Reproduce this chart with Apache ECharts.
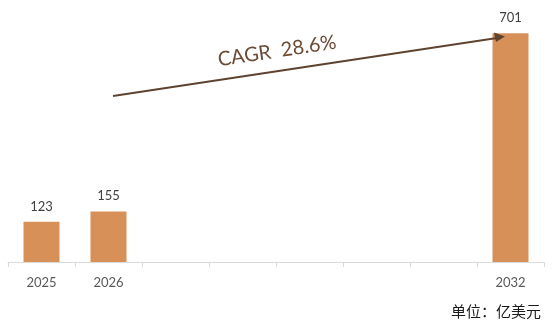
<!DOCTYPE html>
<html><head><meta charset="utf-8">
<script src="https://cdn.jsdelivr.net/npm/echarts@6/dist/echarts.min.js"></script>
<style>html,body{margin:0;padding:0;background:#fff}#c{width:557px;height:325px}</style>
</head><body><div id="c"></div>
<script>
var categories = ['2025','2026','','','','','','2032'];
var values = [123, 155, null, null, null, null, null, 701];
var cagrText = 'CAGR  28.6%';
var unitText = '单位：亿美元';

var chart = echarts.init(document.getElementById('c'));
var font = 'Lato, "Noto Sans", sans-serif';
chart.setOption({
  animation: false,
  grid: {left: 8, right: 13, top: 1, bottom: 63},
  xAxis: {
    type: 'category', data: categories,
    axisLine: {lineStyle: {color: '#D9D9D9', width: 1}},
    axisTick: {show: true, length: 5, lineStyle: {color: '#D9D9D9'}},
    axisLabel: {color: '#595959', fontSize: 13, fontFamily: font, margin: 14}
  },
  yAxis: {type: 'value', min: 0, max: 800, show: false, splitLine: {show: false}},
  series: [{
    type: 'bar', data: values, barWidth: 36,
    itemStyle: {color: '#D79158'},
    label: {show: true, position: 'top', distance: 9, color: '#404040', fontSize: 13, fontFamily: font}
  }],
  graphic: [
    {type: 'line', z: 100, shape: {x1: 113, y1: 96, x2: 497, y2: 38}, style: {stroke: '#5E4330', lineWidth: 2}},
    {type: 'polygon', z: 100, shape: {points: [[505, 36.5], [494, 32.5], [496, 42]]}, style: {fill: '#5E4330'}},
    {type: 'text', z: 100, x: 277, y: 51, rotation: 8.6 * Math.PI / 180,
     style: {text: cagrText, fill: '#6B4A33', font: '20px ' + font, align: 'center', verticalAlign: 'middle'}},
    {type: 'text', z: 100, x: 541, y: 311,
     style: {text: unitText, fill: '#1a1a1a', font: '15px "Noto Sans CJK SC", sans-serif', align: 'right', verticalAlign: 'middle'}}
  ]
});
</script></body></html>
